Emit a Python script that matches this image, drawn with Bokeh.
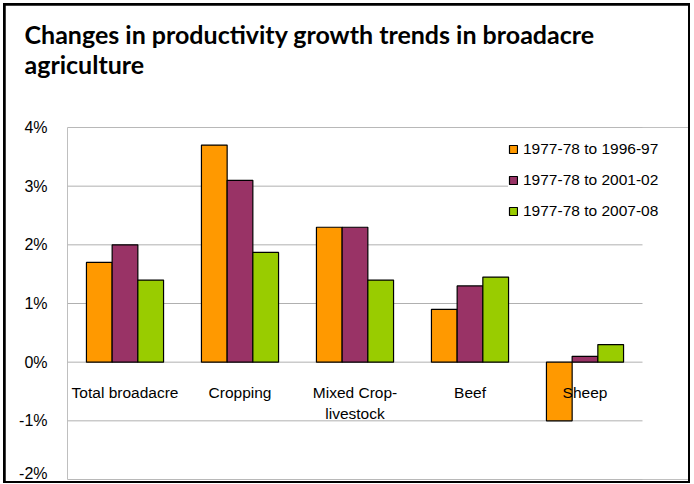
from bokeh.plotting import figure
from bokeh.layouts import column
from bokeh.models import (ColumnDataSource, Range1d, FixedTicker,
                          PrintfTickFormatter, Legend, LegendItem, Title)
from bokeh.transform import dodge
from bokeh.core.properties import value
from bokeh.embed import file_html
from bokeh.resources import INLINE

categories = ["Total broadacre", "Cropping", "Mixed Crop-livestock", "Beef", "Sheep"]
category_labels = ["Total broadacre", "Cropping", "Mixed Crop-\nlivestock", "Beef", "Sheep"]
series_names = ["1977-78 to 1996-97", "1977-78 to 2001-02", "1977-78 to 2007-08"]
s1 = [1.7, 3.7, 2.3, 0.9, -1.0]
s2 = [2.0, 3.1, 2.3, 1.3, 0.1]
s3 = [1.4, 1.87, 1.4, 1.45, 0.3]
y_ticks = [-2, -1, 0, 1, 2, 3, 4]
colors = ["#FF9900", "#993366", "#99CC00"]

n = len(categories)
xpos = [i + 0.5 for i in range(n)]
src = ColumnDataSource(data=dict(cat=categories, x=xpos, s1=s1, s2=s2, s3=s3,
                                 lab=category_labels, ly=[-0.38] * n))

p = figure(width=683, height=476, output_backend="svg", toolbar_location=None,
           x_range=Range1d(0, n + 46 / 115), y_range=Range1d(-2, 4),
           min_border_left=62, min_border_right=0, min_border_top=122,
           min_border_bottom=2, margin=(2, 2, 2, 2))

p.title.text = "Changes in productivity growth trends in broadacre\nagriculture"
p.title.text_font = "Lato"
p.title.text_font_style = "bold"
p.title.text_font_size = "25px"
p.title.text_color = "#000000"
p.title.text_line_height = 1.0
p.title.align = "left"
p.title.vertical_align = "bottom"
p.title.offset = -43
p.title.standoff = 0

# blank spacer between the title and the plot area
p.add_layout(Title(text=" ", text_font="Liberation Sans", text_font_size="10px",
                   standoff=36), "above")

p.outline_line_color = None
p.background_fill_color = "white"
p.border_fill_color = "white"

p.xaxis.visible = False
p.xgrid.visible = False
p.ygrid.visible = False
p.yaxis.ticker = FixedTicker(ticks=y_ticks)
p.yaxis.formatter = PrintfTickFormatter(format="%d%%")
p.yaxis.axis_line_color = None
p.yaxis.major_tick_line_color = None
p.yaxis.minor_tick_line_color = None
p.yaxis.major_label_text_font = "Liberation Sans"
p.yaxis.major_label_text_font_size = "16px"
p.yaxis.major_label_text_color = "#000000"
p.yaxis.major_label_standoff = 14

# horizontal gridlines spanning the category area only
p.segment(x0=[0] * len(y_ticks), x1=[n] * len(y_ticks), y0=y_ticks, y1=y_ticks,
          line_color="#b0b0b0", line_width=1, level="underlay")

bw = 0.2235
renderers = []
for i, (col, c) in enumerate(zip(["s1", "s2", "s3"], colors)):
    r = p.vbar(x=dodge("x", (i - 1) * bw), top=col, bottom=0,
               width=bw, source=src, fill_color=c, line_color="black", line_width=1.2)
    renderers.append(r)

p.text(x="x", y="ly", text="lab", source=src, text_align="center",
       text_baseline="top", text_font=value("Liberation Sans"),
       text_font_size="15.5px", text_color="#000000", text_line_height=1.2)

legend = Legend(items=[LegendItem(label=nm, renderers=[r]) for nm, r in zip(series_names, renderers)],
                location=(441, 258), orientation="vertical",
                glyph_width=10, glyph_height=10, label_height=21, spacing=10,
                label_standoff=5, padding=5, margin=0,
                border_line_color=None, background_fill_color="white",
                background_fill_alpha=1,
                label_text_font="Liberation Sans", label_text_font_size="15.5px",
                label_text_color="#000000")
p.add_layout(legend, "center")

page = column(p, margin=(3, 4, 1, 3), styles={"background-color": "#000000"})

open("out.html", "w").write(file_html(page, INLINE))
